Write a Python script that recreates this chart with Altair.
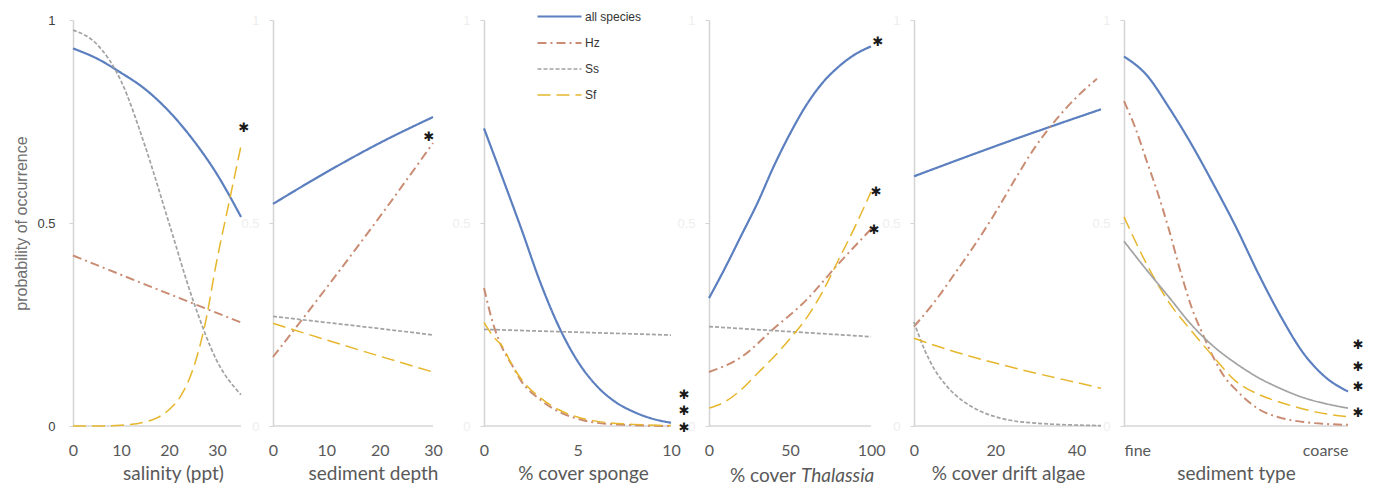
import altair as alt
import pandas as pd

SERIES = ["all species", "Hz", "Ss", "Sf"]
COLORS = ["#5b7fbf", "#c98b72", "#a3a3a3", "#e6b62c"]
DASHES = [[1, 0], [9, 4, 2, 4], [4, 2], [13, 6]]
WIDTHS = [2.2, 1.5, 1.5, 1.6]

# ---- panel 1: salinity (ppt)
sal_all_x = [0, 5, 10, 15, 20, 25, 30, 35]
sal_all_y = [0.93, 0.905, 0.87, 0.83, 0.775, 0.705, 0.62, 0.515]
sal_hz_x = [0, 17.5, 35]
sal_hz_y = [0.42, 0.337, 0.255]
sal_ss_x = [0, 5, 10, 15, 20, 25, 30, 35]
sal_ss_y = [0.975, 0.94, 0.85, 0.69, 0.50, 0.31, 0.16, 0.077]
sal_sf_x = [0, 5, 10, 15, 17.5, 20, 22.5, 25, 27.5, 30, 32.5, 35]
sal_sf_y = [0, 0, 0.002, 0.01, 0.02, 0.04, 0.075, 0.14, 0.25, 0.41, 0.55, 0.69]
sal_star_x = [35.6]
sal_star_y = [0.734]

# ---- panel 2: sediment depth
dep_x = [0, 10, 20, 30]
dep_all_y = [0.547, 0.625, 0.697, 0.761]
dep_hz_y = [0.17, 0.34, 0.515, 0.697]
dep_ss_y = [0.27, 0.255, 0.24, 0.224]
dep_sf_y = [0.253, 0.212, 0.172, 0.133]
dep_star_x = [29.25]
dep_star_y = [0.712]

# ---- panel 3: % cover sponge
spo_all_x = [0, 1, 2, 3, 4, 5, 6, 7, 8, 9, 10]
spo_all_y = [0.733, 0.61, 0.485, 0.355, 0.245, 0.16, 0.10, 0.06, 0.035, 0.018, 0.008]
spo_hz_x = [0, 0.5, 1, 1.5, 2, 3, 4, 5, 6, 8, 10]
spo_hz_y = [0.34, 0.25, 0.19, 0.15, 0.11, 0.065, 0.035, 0.018, 0.008, 0.002, 0.0]
spo_ss_x = [0, 10]
spo_ss_y = [0.238, 0.224]
spo_sf_x = [0, 0.5, 1, 1.5, 2, 3, 4, 5, 6, 8, 10]
spo_sf_y = [0.255, 0.22, 0.195, 0.15, 0.115, 0.07, 0.04, 0.022, 0.012, 0.004, 0.001]
spo_star_x = [10.7, 10.7, 10.7]
spo_star_y = [0.077, 0.036, -0.005]

# ---- panel 4: % cover Thalassia
tha_x = [0, 10, 20, 30, 40, 50, 60, 70, 80, 90, 100]
tha_all_y = [0.315, 0.39, 0.47, 0.55, 0.64, 0.72, 0.79, 0.845, 0.885, 0.915, 0.935]
tha_hz_x = [0, 20, 40, 60, 80, 100]
tha_hz_y = [0.133, 0.17, 0.24, 0.31, 0.40, 0.485]
tha_ss_x = [0, 100]
tha_ss_y = [0.245, 0.22]
tha_sf_y = [0.044, 0.06, 0.09, 0.13, 0.17, 0.215, 0.265, 0.33, 0.41, 0.49, 0.577]
tha_star_x = [104.3, 103.1, 101.9]
tha_star_y = [0.946, 0.576, 0.483]

# ---- panel 5: % cover drift algae
alg_all_x = [0, 23, 46]
alg_all_y = [0.615, 0.70, 0.78]
alg_hz_x = [0, 5, 10, 15, 20, 25, 30, 35, 40, 45]
alg_hz_y = [0.245, 0.305, 0.375, 0.447, 0.525, 0.61, 0.69, 0.755, 0.81, 0.855]
alg_ss_x = [0, 2.5, 5, 7.5, 10, 13, 16, 21, 30, 46]
alg_ss_y = [0.256, 0.19, 0.14, 0.105, 0.078, 0.055, 0.038, 0.02, 0.007, 0.001]
alg_sf_x = [0, 10, 20, 30, 40, 46]
alg_sf_y = [0.216, 0.183, 0.155, 0.13, 0.107, 0.093]

# ---- panel 6: sediment type (fine -> coarse)
sed_x = [0, 0.1, 0.2, 0.3, 0.4, 0.5, 0.6, 0.7, 0.8, 0.9, 1.0]
sed_all_y = [0.91, 0.865, 0.785, 0.695, 0.595, 0.49, 0.375, 0.27, 0.18, 0.12, 0.085]
sed_hz_x = [0, 0.05, 0.1, 0.15, 0.2, 0.25, 0.3, 0.35, 0.4, 0.45, 0.5, 0.6, 0.7, 0.8, 0.9, 1.0]
sed_hz_y = [0.80, 0.735, 0.655, 0.575, 0.485, 0.385, 0.295, 0.228, 0.168, 0.12, 0.089,
            0.042, 0.02, 0.01, 0.005, 0.003]
sed_ss_y = [0.455, 0.385, 0.318, 0.25, 0.196, 0.154, 0.119, 0.092, 0.07, 0.055, 0.044]
sed_sf_y = [0.515, 0.40, 0.305, 0.235, 0.17, 0.11, 0.078, 0.058, 0.042, 0.03, 0.023]
sed_star_x = [1.045, 1.045, 1.045, 1.045]
sed_star_y = [0.2, 0.145, 0.096, 0.032]

TXT = "#595959"
FONT = "Lato"
H = 406

color_scale = alt.Scale(domain=SERIES, range=COLORS)
dash_scale = alt.Scale(domain=SERIES, range=DASHES)
width_scale = alt.Scale(domain=SERIES, range=WIDTHS)

legend = alt.Legend(
    title=None, orient="none", legendX=480, legendY=-10,
    symbolType="M-4.4,0H4.4", symbolSize=100, symbolStrokeWidth=1.8,
    symbolFillColor="transparent",
    labelFont="Liberation Sans", labelFontSize=12, labelColor="#333333",
    labelOffset=19, rowPadding=14, padding=0,
)


def frame(pairs):
    rows = []
    for name, xs, ys in pairs:
        for x, y in zip(xs, ys):
            rows.append({"x": x, "p": y, "series": name})
    return pd.DataFrame(rows)


def panel(pairs, width, xdom_max, xend, xvals, xtitle, title_x, stars=None,
          first=False, label_expr=None, flush=False, solid_ss=False, extra=None):
    df = frame(pairs)
    xaxis = alt.Axis(
        values=xvals, domain=False, ticks=False, grid=False,
        labelFont=FONT, labelFontSize=16, labelColor=TXT, labelPadding=16,
        labelFlush=flush,
        title=xtitle if xtitle else None, titleFont=FONT, titleFontSize=19,
        titleFontWeight="normal", titleColor=TXT, titlePadding=6,
        titleX=title_x, titleAlign="center",
        **({"labelExpr": label_expr} if label_expr else {}),
    )
    yaxis = alt.Axis(
        values=[0, 0.5, 1], format=".1~f", grid=False,
        domainColor="#d4d4d4", domainWidth=1.5, tickColor="#d4d4d4", tickSize=4,
        labelPadding=14 if first else 10,
        labelFont="Liberation Sans", labelFontSize=13,
        labelColor="#404040" if first else "#eeeeee",
        title="probability of occurrence" if first else None,
        titleFont="Liberation Sans", titleFontSize=16, titleFontWeight="normal",
        titleColor="#707070", titlePadding=7,
    )
    xs = alt.X("x:Q", scale=alt.Scale(domain=[0, xdom_max], nice=False, zero=False), axis=xaxis)
    ys = alt.Y("p:Q", scale=alt.Scale(domain=[0, 1], nice=False), axis=yaxis)

    base = alt.Chart(pd.DataFrame({"x": [0], "x2": [xend], "p": [0]})).mark_rule(
        color="#d6d6d6", strokeWidth=1.5).encode(x=xs, x2="x2:Q", y=ys)

    enc = dict(
        x=xs, y=ys,
        color=alt.Color("series:N", scale=color_scale, legend=legend, sort=SERIES),
        strokeWidth=alt.StrokeWidth("series:N", scale=width_scale, legend=None),
    )
    dashed = alt.StrokeDash("series:N", scale=dash_scale, legend=legend, sort=SERIES)
    if solid_ss:
        lines = alt.Chart(df[df.series != "Ss"]).mark_line(interpolate="monotone").encode(
            strokeDash=dashed, **enc)
        ss = alt.Chart(df[df.series == "Ss"]).mark_line(interpolate="monotone").encode(
            strokeDash=alt.value([1, 0]), **enc)
        layers = [base, lines, ss]
    else:
        lines = alt.Chart(df).mark_line(interpolate="monotone").encode(strokeDash=dashed, **enc)
        layers = [base, lines]
    if stars:
        sdf = pd.DataFrame({"x": stars[0], "p": stars[1]})
        layers.append(alt.Chart(sdf).mark_text(
            text="✱", font="DejaVu Sans", fontSize=13, color="#1a1a1a", baseline="middle"
        ).encode(x=xs, y=ys))
    if extra:
        layers.extend(extra)
    return alt.layer(*layers).properties(width=width, height=H)


p1 = panel([("all species", sal_all_x, sal_all_y), ("Hz", sal_hz_x, sal_hz_y),
            ("Ss", sal_ss_x, sal_ss_y), ("Sf", sal_sf_x, sal_sf_y)],
           200, 41.667, 35, [0, 10, 20, 30], "salinity (ppt)", 100,
           stars=(sal_star_x, sal_star_y), first=True)

p2 = panel([("all species", dep_x, dep_all_y), ("Hz", dep_x, dep_hz_y),
            ("Ss", dep_x, dep_ss_y), ("Sf", dep_x, dep_sf_y)],
           211, 39.56, 30, [0, 10, 20, 30], "sediment depth", 100,
           stars=(dep_star_x, dep_star_y))

p3 = panel([("all species", spo_all_x, spo_all_y), ("Hz", spo_hz_x, spo_hz_y),
            ("Ss", spo_ss_x, spo_ss_y), ("Sf", spo_sf_x, spo_sf_y)],
           225, 12.03, 10, [0, 5, 10], "% cover sponge", 99,
           stars=(spo_star_x, spo_star_y))

t1 = alt.Chart(pd.DataFrame({"t": ["% cover"]})).mark_text(
    font=FONT, fontSize=19, color=TXT, align="right", baseline="middle").encode(
    text="t:N", x=alt.value(87), y=alt.value(H + 50))
t2 = alt.Chart(pd.DataFrame({"t": ["Thalassia"]})).mark_text(
    font=FONT, fontSize=19, color=TXT, align="left", baseline="middle", fontStyle="italic").encode(
    text="t:N", x=alt.value(92), y=alt.value(H + 50))

p4 = panel([("all species", tha_x, tha_all_y), ("Hz", tha_hz_x, tha_hz_y),
            ("Ss", tha_ss_x, tha_ss_y), ("Sf", tha_x, tha_sf_y)],
           205, 126.5, 100, [0, 50, 100], None, 94,
           stars=(tha_star_x, tha_star_y), extra=[t1, t2])

p5 = panel([("all species", alg_all_x, alg_all_y), ("Hz", alg_hz_x, alg_hz_y),
            ("Ss", alg_ss_x, alg_ss_y), ("Sf", alg_sf_x, alg_sf_y)],
           210, 51.66, 46, [0, 20, 40], "% cover drift algae", 94)

p6 = panel([("all species", sed_x, sed_all_y), ("Hz", sed_hz_x, sed_hz_y),
            ("Ss", sed_x, sed_ss_y), ("Sf", sed_x, sed_sf_y)],
           224, 1.0, 1.0, [0, 1], "sediment type", 112,
           stars=(sed_star_x, sed_star_y),
           label_expr="datum.value == 0 ? 'fine' : 'coarse'", flush=True, solid_ss=True)

chart = alt.hconcat(p1, p2, p3, p4, p5, p6, spacing=0, bounds="flush").properties(
    padding={"left": 13, "top": 10, "right": 0, "bottom": 0},
    background="white",
).configure_view(stroke=None)

chart.save("out.html", embed_options={"renderer": "svg", "actions": False})
